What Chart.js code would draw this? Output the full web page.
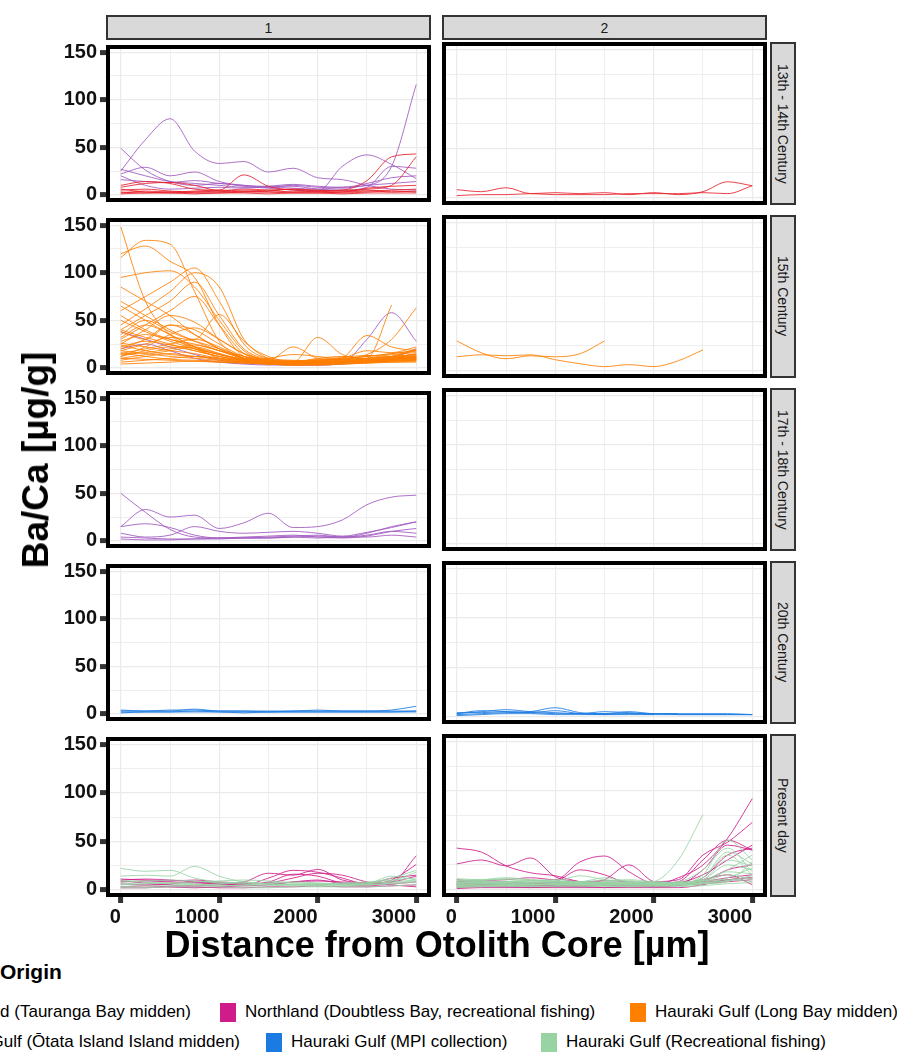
<!DOCTYPE html>
<html>
<head>
<meta charset="utf-8">
<script src="https://cdn.jsdelivr.net/npm/chart.js@4.4.1/dist/chart.umd.min.js"></script>
<style>
  html, body { margin: 0; padding: 0; background: #fff; }
  #fig { position: relative; width: 897px; height: 1053px; overflow: hidden; font-family: 'Liberation Sans', Arial, sans-serif; }
  #fig canvas { position: absolute; }
  .strip { position: absolute; box-sizing: border-box; background: #d9d9d9; border: 2.5px solid #333;
           color: #1a1a1a; font-size: 14px; display: flex; align-items: center; justify-content: center; }
  .strip.side span { writing-mode: vertical-rl; white-space: nowrap; }
  .title { position: absolute; font-weight: bold; color: #000; white-space: nowrap; }
  .leg { position: absolute; display: flex; align-items: center; font-size: 17px; color: #000; white-space: nowrap; }
  .leg i { display: inline-block; width: 16px; height: 19px; margin-right: 9px; }
</style>
</head>
<body>
<div id="fig"></div>
<script>
// x grid shared by every smoothed profile (µm from the core)
const distance = [0, 250, 500, 750, 1000, 1250, 1500, 1750, 2000, 2250, 2500, 2750, 3000];

const colPanels = ['1', '2'];
const periods = ['13th - 14th Century', '15th Century', '17th - 18th Century', '20th Century', 'Present day'];
const xTicks = [0, 500, 1000, 1500, 2000, 2500, 3000];
const yTicks = [0, 25, 50, 75, 100, 125, 150];

const origins = ['Northland (Tauranga Bay midden)', 'Northland (Doubtless Bay, recreational fishing)',
  'Hauraki Gulf (Long Bay midden)', 'Hauraki Gulf (Ōtata Island Island midden)',
  'Hauraki Gulf (MPI collection)', 'Hauraki Gulf (Recreational fishing)'];
const originColours = ['#e8212b', '#d01c8b', '#ff7f00', '#a058bf', '#1c7be3', '#98d3a4'];

// 13th - 14th century
const tauranga13c1 = [
  [10, 14, 12, 6, 5, 21, 9, 5, 4, 5, 15, 40, 43],
  [8, 12, 13, 10, 4, 3, 4, 6, 5, 4, 6, 10, 40],
  [5, 6, 4, 3, 3, 4, 5, 6, 4, 3, 7, 9, 10],
  [3, 2, 3, 2, 2, 3, 3, 2, 2, 3, 4, 5, 6],
  [2, 4, 3, 4, 5, 4, 3, 3, 4, 5, 5, 3, 4],
  [6, 3, 2, 3, 4, 6, 5, 3, 3, 2, 3, 4, 3],
  [1, 2, 2, 1, 2, 2, 1, 2, 2, 1, 2, 2, 2]
];
const otata13c1 = [
  [25, 58, 80, 46, 33, 35, 24, 28, 18, 16, 10, 6, 5],
  [49, 26, 14, 10, 12, 9, 7, 5, 4, 30, 42, 32, 17],
  [27, 20, 14, 12, 10, 8, 8, 7, 6, 8, 10, 30, 116],
  [22, 29, 20, 24, 14, 10, 9, 9, 6, 5, 8, 30, 28],
  [16, 14, 13, 15, 12, 10, 8, 10, 8, 7, 10, 12, 14],
  [20, 10, 6, 7, 8, 7, 9, 11, 9, 8, 12, 18, 20]
];
const tauranga13c2 = [
  [8, 6, 10, 4, 5, 4, 5, 3, 5, 3, 6, 16, 12],
  [2, 3, 3, 4, 3, 3, 3, 4, 4, 4, 5, 4, 12]
];

// 15th century
const longbay15c1 = [
  [148, 70, 35, 20, 12, 8, 6, 5, 6, 7, 8, 10, 12],
  [116, 134, 130, 80, 28, 10, 6, 5, 5, 6, 7, 9, 10],
  [120, 128, 112, 95, 45, 12, 7, 6, 7, 8, 9, 11, 13],
  [95, 100, 102, 85, 50, 18, 8, 6, 8, 10, 12, 15, 18],
  [60, 75, 90, 105, 70, 25, 10, 8, 7, 6, 7, 8, 9],
  [45, 62, 80, 100, 85, 30, 12, 7, 8, 9, 10, 12, 14],
  [40, 55, 70, 90, 55, 20, 9, 6, 5, 6, 8, 9, 10],
  [85, 70, 55, 35, 20, 10, 7, 6, 6, 7, 8, 9, 11],
  [30, 45, 60, 75, 45, 15, 8, 6, 6, 7, 6, 8, 9],
  [35, 50, 38, 30, 56, 28, 10, 7, 8, 9, 10, 11, 12],
  [25, 40, 55, 48, 30, 15, 8, 6, 6, 8, 10, 66, null],
  [20, 30, 45, 40, 25, 12, 8, 7, 8, 9, 14, 30, 63],
  [55, 40, 30, 25, 18, 10, 8, 22, 10, 8, 8, 10, 12],
  [28, 35, 30, 22, 15, 9, 7, 6, 32, 14, 10, 12, 14],
  [18, 25, 32, 28, 20, 12, 6, 5, 6, 10, 34, 22, 18],
  [15, 20, 25, 30, 22, 10, 5, 4, 5, 6, 8, 12, 20],
  [12, 18, 22, 18, 12, 8, 5, 4, 4, 5, 6, 8, 10],
  [10, 14, 18, 22, 15, 7, 4, 3, 4, 5, 6, 7, 8],
  [8, 12, 15, 12, 9, 6, 4, 3, 3, 4, 5, 6, 7],
  [22, 28, 24, 20, 14, 9, 6, 5, 5, 6, 7, 9, 11],
  [40, 32, 25, 18, 12, 8, 6, 5, 5, 6, 8, 10, 15],
  [50, 38, 28, 20, 14, 9, 7, 6, 10, 12, 9, 8, 9],
  [32, 45, 35, 22, 10, 6, 5, 4, 4, 5, 6, 7, 8],
  [26, 22, 18, 15, 10, 7, 5, 4, 5, 6, 10, 14, 16],
  [14, 16, 20, 24, 18, 12, 8, 7, 6, 7, 8, 10, 12],
  [6, 8, 10, 12, 10, 7, 5, 4, 4, 5, 6, 7, 8],
  [38, 30, 45, 35, 20, 10, 6, 5, 6, 7, 8, 9, 10],
  [70, 55, 40, 28, 18, 10, 6, 5, 5, 6, 7, 8, 9],
  [18, 15, 12, 10, 8, 6, 5, 4, 6, 9, 12, 15, 18],
  [10, 9, 8, 7, 6, 5, 4, 5, 7, 10, 18, 16, 22],
  [4, 5, 6, 7, 6, 5, 4, 3, 3, 4, 5, 6, 6],
  [24, 18, 14, 12, 10, 8, 10, 14, 12, 9, 8, 12, 18],
  [65, 50, 35, 22, 14, 9, 6, 5, 5, 6, 7, 9, 11],
  [12, 22, 35, 42, 30, 15, 8, 6, 6, 7, 8, 10, 12],
  [16, 12, 9, 8, 7, 6, 6, 7, 9, 11, 13, 12, 14]
];
const otata15c1 = [
  [38, 30, 22, 14, 8, 5, 4, 3, 3, 5, 30, 58, 28],
  [20, 25, 18, 10, 6, 4, 3, 3, 3, 4, 6, 10, 20]
];
const longbay15c2 = [
  [30, 18, 12, 15, 14, 17, 30],
  [14, 16, 15, 16, 11, 7, 4, 6, 4, 10, 21]
];

// 17th - 18th century
const otata17c1 = [
  [50, 30, 12, 4, 3, 3, 4, 5, 6, 4, 6, 10, 8],
  [15, 33, 25, 27, 13, 19, 29, 14, 15, 22, 38, 46, 48],
  [15, 18, 14, 6, 3, 3, 3, 4, 5, 4, 8, 15, 20],
  [8, 4, 6, 15, 10, 8, 9, 10, 8, 5, 9, 14, 20],
  [4, 3, 2, 2, 3, 4, 5, 6, 4, 3, 5, 10, 13],
  [2, 1, 1, 2, 2, 3, 3, 4, 3, 4, 4, 6, 4]
];

// 20th century
const mpi20c1 = [
  [3, 3, 3, 5, 3, 3, 2, 3, 3, 3, 3, 4, 8],
  [2, 2, 2, 3, 2, 2, 2, 2, 2, 2, 2, 2, 3],
  [4, 3, 4, 4, 3, 3, 3, 3, 4, 3, 3, 3, 3],
  [1, 2, 2, 2, 2, 1, 2, 2, 2, 2, 2, 2, 2]
];
const mpi20c2 = [
  [3, 5, 7, 5, 4, 3, 3, 3, 3, 2, 2, 2, 2],
  [2, 3, 4, 5, 9, 4, 3, 5, 3, 3],
  [4, 4, 5, 4, 3, 3, 5, 4, 3, 3, 3, 3, 2],
  [1, 2, 3, 3, 2, 2, 2, 2, 2, 2, 2, 2, 2],
  [3, 6, 5, 4, 6, 3, 2, 3, 2]
];

// present day
const doubtlessNowC1 = [
  [10, 11, 10, 8, 6, 8, 17, 15, 21, 10, 7, 8, 35],
  [8, 9, 8, 7, 6, 5, 12, 20, 18, 12, 6, 10, 26],
  [6, 5, 6, 8, 7, 6, 8, 16, 14, 7, 6, 12, 15],
  [3, 4, 3, 2, 3, 4, 5, 8, 10, 6, 4, 6, 8],
  [2, 2, 3, 3, 2, 2, 3, 3, 4, 3, 3, 4, 5],
  [9, 7, 5, 4, 5, 6, 7, 12, 17, 15, 8, 5, 3],
  [11, 10, 9, 10, 8, 7, 6, 8, 9, 8, 7, 8, 14]
];
const recNowC1 = [
  [22, 19, 20, 12, 8, 7, 6, 6, 5, 5, 6, 8, 10],
  [14, 15, 14, 24, 14, 8, 6, 5, 6, 5, 7, 12, 20],
  [8, 9, 10, 9, 7, 6, 5, 5, 6, 7, 8, 10, 12],
  [5, 6, 7, 6, 5, 4, 4, 5, 5, 6, 7, 9, 18],
  [3, 4, 4, 5, 6, 8, 6, 5, 4, 4, 5, 6, 8],
  [10, 8, 7, 8, 9, 10, 9, 7, 6, 5, 6, 14, 10],
  [2, 2, 3, 3, 3, 2, 2, 3, 3, 3, 3, 4, 5],
  [6, 7, 6, 5, 4, 5, 7, 8, 7, 6, 5, 7, 9]
];
const doubtlessNowC2 = [
  [42, 38, 24, 17, 14, 8, 6, 5, 6, 5, 8, 12, 15],
  [26, 30, 24, 32, 13, 8, 6, 5, 4, 5, 7, 10, 12],
  [8, 9, 10, 12, 10, 28, 34, 18, 6, 5, 6, 8, 10],
  [6, 7, 8, 6, 8, 20, 15, 6, 5, 12, 25, 52, 92],
  [5, 5, 6, 7, 6, 5, 10, 25, 8, 6, 20, 45, 40],
  [4, 4, 5, 5, 4, 4, 5, 6, 8, 10, 35, 48, 68],
  [10, 8, 6, 5, 5, 6, 5, 5, 6, 8, 30, 50, 40],
  [3, 4, 3, 3, 4, 3, 4, 4, 3, 5, 12, 35, 42],
  [2, 3, 3, 2, 3, 3, 2, 3, 3, 4, 8, 20, 25],
  [7, 6, 5, 6, 7, 8, 7, 6, 5, 6, 10, 15, 5],
  [1, 2, 2, 2, 2, 2, 2, 2, 2, 2, 5, 10, 12],
  [5, 6, 5, 4, 5, 7, 9, 8, 6, 7, 15, 30, 45]
];
const recNowC2 = [
  [8, 7, 6, 7, 8, 6, 5, 6, 8, 30, 76],
  [6, 7, 8, 9, 10, 8, 12, 8, 6, 6, 15, 50, 30],
  [5, 6, 7, 6, 5, 6, 7, 6, 5, 7, 10, 25, 20],
  [9, 10, 12, 10, 9, 14, 10, 8, 6, 5, 8, 20, 35],
  [4, 5, 5, 6, 5, 4, 5, 6, 5, 4, 6, 12, 22],
  [7, 6, 5, 5, 6, 7, 6, 5, 6, 7, 12, 35, 15],
  [3, 4, 4, 3, 4, 5, 4, 3, 4, 5, 7, 15, 10],
  [10, 9, 8, 8, 7, 6, 8, 9, 7, 8, 20, 42, 18],
  [6, 8, 7, 7, 6, 5, 6, 7, 8, 6, 9, 10, 8],
  [2, 3, 3, 3, 3, 3, 3, 3, 3, 3, 4, 6, 7],
  [11, 10, 10, 9, 8, 8, 7, 7, 6, 6, 7, 9, 12],
  [5, 4, 4, 5, 5, 6, 6, 5, 5, 5, 6, 8, 28],
  [4, 6, 8, 9, 8, 7, 7, 6, 6, 5, 6, 9, 14],
  [9, 8, 6, 5, 6, 8, 9, 10, 8, 7, 10, 30, 24],
  [3, 3, 4, 4, 5, 5, 4, 4, 4, 5, 9, 18, 16],
  [7, 9, 11, 10, 8, 7, 6, 5, 5, 6, 12, 38, 26]
];

// which groups of profiles go in which facet (first listed is drawn on top)
const facetData = [
  [[[0, tauranga13c1], [3, otata13c1]], [[0, tauranga13c2]]],
  [[[2, longbay15c1], [3, otata15c1]], [[2, longbay15c2]]],
  [[[3, otata17c1]], []],
  [[[4, mpi20c1]], [[4, mpi20c2]]],
  [[[5, recNowC1], [1, doubtlessNowC1]], [[5, recNowC2], [1, doubtlessNowC2]]]
];

Chart.defaults.font.family = "'Liberation Sans', Arial, sans-serif";

const fig = document.getElementById('fig');
const PAD = 12, YW = 70, XH = 34, PW = 325, PH = 163;

function withAlpha(hex, a) {
  const n = parseInt(hex.slice(1), 16);
  return `rgba(${n >> 16}, ${(n >> 8) & 255}, ${n & 255}, ${a})`;
}

const panelBorder = {
  id: 'panelBorder',
  afterDraw(chart) {
    const a = chart.chartArea, ctx = chart.ctx;
    ctx.save();
    ctx.lineWidth = 4;
    ctx.strokeStyle = '#000';
    ctx.strokeRect(a.left + 2, a.top + 2, a.right - a.left - 4, a.bottom - a.top - 4);
    ctx.restore();
  }
};

function addDiv(cls, css, html) {
  const d = document.createElement('div');
  d.className = cls;
  Object.assign(d.style, css);
  d.innerHTML = html;
  fig.appendChild(d);
  return d;
}

facetData.forEach((rowGroups, row) => {
  rowGroups.forEach((groups, col) => {
    const left = col ? 442 : 106, top = 42 + 173 * row;
    const isLeft = col === 0, isBottom = row === periods.length - 1;
    const cv = document.createElement('canvas');
    cv.width = PW + 2 * PAD + (isLeft ? YW : 0);
    cv.height = PH + 2 * PAD + (isBottom ? XH : 0);
    cv.style.left = (left - PAD - (isLeft ? YW : 0)) + 'px';
    cv.style.top = (top - PAD) + 'px';
    fig.appendChild(cv);

    const datasets = [];
    groups.forEach(([o, profiles]) => {
      profiles.forEach(vals => {
        datasets.push({
          label: origins[o],
          data: vals.map((v, i) => ({ x: distance[i], y: v })),
          borderColor: withAlpha(originColours[o], 0.85),
          borderWidth: 1,
          pointRadius: 0,
          tension: 0.4,
          cubicInterpolationMode: 'monotone',
          fill: false
        });
      });
    });

    new Chart(cv, {
      type: 'line',
      data: { datasets },
      options: {
        responsive: false,
        animation: false,
        events: [],
        layout: { padding: PAD },
        plugins: { legend: { display: false }, tooltip: { enabled: false } },
        scales: {
          x: {
            type: 'linear', min: -150, max: 3150, bounds: 'data',
            afterBuildTicks: s => { s.ticks = xTicks.map(v => ({ value: v })); },
            afterFit: s => { s.height = isBottom ? XH : 0; },
            border: { display: false },
            grid: {
              color: '#ebebeb',
              lineWidth: c => (c.tick && c.tick.value % 1000 === 0 ? 1.2 : 0.8),
              drawTicks: isBottom, tickLength: 6, tickWidth: 5,
              tickColor: c => (c.tick && c.tick.value % 1000 === 0 ? '#333' : 'rgba(0,0,0,0)')
            },
            ticks: {
              display: isBottom, autoSkip: false, maxRotation: 0, align: 'end', padding: 2,
              color: '#111', font: { size: 20, weight: 'bold' },
              callback: v => (v % 1000 === 0 ? String(v) : '')
            }
          },
          y: {
            type: 'linear', min: -7.5, max: 157.5, bounds: 'data',
            afterBuildTicks: s => { s.ticks = yTicks.map(v => ({ value: v })); },
            afterFit: s => { s.width = isLeft ? YW : 0; },
            border: { display: false },
            grid: {
              color: '#ebebeb',
              lineWidth: c => (c.tick && c.tick.value % 50 === 0 ? 1.2 : 0.8),
              drawTicks: isLeft, tickLength: 6, tickWidth: 5,
              tickColor: c => (c.tick && c.tick.value % 50 === 0 ? '#333' : 'rgba(0,0,0,0)')
            },
            ticks: {
              display: isLeft, autoSkip: false, padding: 3,
              color: '#111', font: { size: 20, weight: 'bold' },
              callback: v => (v % 50 === 0 ? String(v) : '')
            }
          }
        }
      },
      plugins: [panelBorder]
    });

    if (row === 0) {
      addDiv('strip', { left: left + 'px', top: '15px', width: PW + 'px', height: '25px' }, colPanels[col]);
    }
    if (col === 1) {
      addDiv('strip side', { left: '770px', top: top + 'px', width: '26px', height: PH + 'px' },
        `<span>${periods[row]}</span>`);
    }
  });
});

// axis titles
addDiv('title', { left: '437px', top: '945px', fontSize: '36px', transform: 'translate(-50%, -50%)' },
  'Distance from Otolith Core [µm]');
addDiv('title', { left: '36px', top: '460px', fontSize: '37px', transform: 'translate(-50%, -50%) rotate(-90deg)' },
  'Ba/Ca [µg/g]');

// legend
addDiv('title', { left: '0px', top: '960px', fontSize: '21px' }, 'Origin');
const legendSpots = [
  { right: 706, top: 1002 }, { left: 220, top: 1002 }, { left: 630, top: 1002 },
  { right: 657, top: 1032 }, { left: 266, top: 1032 }, { left: 541, top: 1032 }
];
origins.forEach((name, i) => {
  const s = legendSpots[i], css = { top: s.top + 'px' };
  if (s.left !== undefined) css.left = s.left + 'px'; else css.right = s.right + 'px';
  addDiv('leg', css, `<i style="background:${originColours[i]}"></i><span>${name}</span>`);
});
</script>
</body>
</html>
